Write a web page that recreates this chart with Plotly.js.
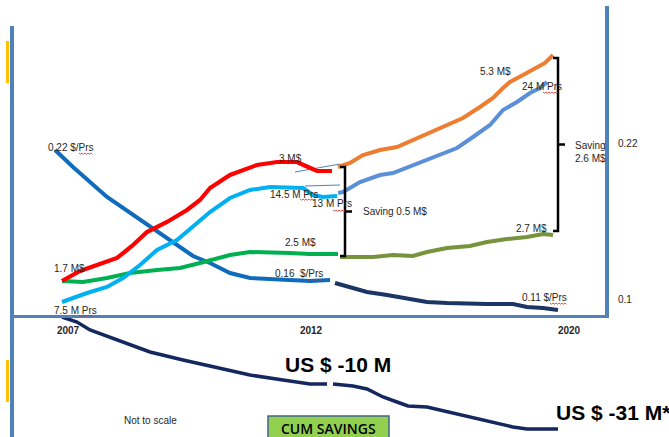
<!DOCTYPE html>
<html>
<head>
<meta charset="utf-8">
<script src="https://cdn.plot.ly/plotly-3.0.1.min.js"></script>
<style>html,body{margin:0;padding:0;background:#fff;}#chart{width:669px;height:437px;}</style>
</head>
<body>
<div id="chart"></div>
<script>
// Time index (not to scale): 0 = 2007, ~50 = 2012, ~100 = 2020
const yearTicks = [1.2, 49.8, 101.4];
const yearLabels = ['2007', '2012', '2020'];
const priceTicks = [0.1, 0.22];
const priceLabels = ['0.1', '0.22'];

// Unit price $/Prs, historic (blue) and forecast (navy) — relative scale
const tPriceHist = [-1.4, 2.2, 9, 15.6, 18.2, 22.2, 26.2, 29.6, 33.6, 37.6, 41.6, 45.6, 49.6, 53.6];
const priceHist  = [166, 149, 119, 96, 88, 73, 60, 53, 43, 38, 37, 37, 35, 36];
const tPriceFc   = [54.6, 57.6, 61, 65, 69, 73, 77, 81.6, 85, 90.2, 93, 96.2, 99.2];
const priceFc    = [33, 29, 24, 21, 18, 14, 13, 12, 12, 12, 9, 8, 6];

// Cost M$ historic (red), forecast without saving (orange)
const tCostHist = [0, 3.6, 7, 11, 14, 17, 21, 25, 27.6, 29.6, 33.6, 39, 43, 47, 49.2, 51, 54];
const costHist  = [35, 45, 51, 58, 70, 84, 94, 106, 116, 128, 141, 151, 154, 154, 149, 145, 145];
const tCostFc   = [55.2, 57.6, 60.2, 63.6, 67, 70.2, 73.6, 78.2, 80.2, 83.6, 86.2, 88.2, 89.6, 92.2, 95, 96.6, 98.2];
const costFc    = [149, 153, 161, 166, 169, 176, 184, 194, 198, 209, 218, 228, 234, 241, 248, 253, 261];

// Volume M Prs historic (cyan), forecast (light blue)
const tVolHist = [0, 5, 9, 12.2, 15.6, 19, 23, 27.6, 29.6, 33.6, 37.6, 41.6, 45.6, 48.2, 50.2, 52.2, 55];
const volHist  = [14, 23, 29, 38, 51, 66, 76, 96, 104, 118, 126, 129, 129, 128, 121, 119, 120];
const tVolFc   = [55.2, 56.2, 59.6, 63.6, 66.2, 70.2, 73.6, 77, 79, 82.2, 85.6, 88.2, 91, 93.6, 95.6, 97];
const volFc    = [123, 124, 134, 141, 143, 151, 158, 164, 168, 179, 191, 206, 214, 223, 228, 234];

// Cost with saving M$ historic (green), forecast (olive)
const tSaveHist = [0, 4.2, 9, 13.6, 19, 23.6, 27.6, 29.6, 33.6, 37.6, 41.6, 45.6, 49.6, 55.2];
const saveHist  = [35, 34, 38, 43, 46, 48, 53, 56, 61, 64, 64, 63, 62, 62];
const tSaveFc   = [55.6, 62.2, 66.2, 70.2, 73, 77, 81.6, 85, 89, 93, 96.2, 98.2];
const saveFc    = [59, 59, 61, 60, 64, 68, 70, 74, 77, 79, 82, 81];

// Cumulative savings (navy, below axis)
const tCumA = [0, 3, 5.6, 11, 17.6, 24.2, 31, 37.6, 44.2, 49.6, 53];
const cumA  = [-1, -6, -14, -24, -36, -44, -52, -59, -64, -68, -68];
const tCumB = [54.2, 58.2, 61, 64.2, 67, 69.2, 73, 75.6, 78.2, 82.2, 86.2, 90.2, 93, 99.2];
const cumB  = [-68, -70, -73, -81, -86, -90, -91, -94, -97, -101, -106, -111, -113, -113];

// Thin connector lines between historic end and forecast start
const tLinkCost = [46.6, 55.6];
const linkCost  = [144, 152];
const tLinkVol  = [48.6, 55.6];
const linkVol   = [130, 131];

const FONT = 'Liberation Sans, Arial, sans-serif';
const TXT = '#262626';

function line(x, y, color, width) {
  return {x: x, y: y, type: 'scatter', mode: 'lines',
    line: {color: color, width: width, shape: 'linear'},
    hoverinfo: 'skip', showlegend: false};
}

const traces = [
  line(tLinkCost, linkCost, '#4f81bd', 1),
  line(tLinkVol, linkVol, '#4f81bd', 1),
  line(tPriceHist, priceHist, '#0f6cbd', 4),
  line(tPriceFc, priceFc, '#1b3564', 4),
  line(tSaveHist, saveHist, '#00b050', 4),
  line(tSaveFc, saveFc, '#77933c', 4),
  line(tVolHist, volHist, '#00b0f0', 4),
  line(tVolFc, volFc, '#5b8fd8', 4),
  line(tCostHist, costHist, '#ff0000', 4.2),
  line(tCostFc, costFc, '#ed7d31', 4),
  line(tCumA, cumA, '#14275f', 3.5),
  line(tCumB, cumB, '#14275f', 3.5),
  {x: [null], y: [null], yaxis: 'y2', type: 'scatter', mode: 'lines', showlegend: false, hoverinfo: 'skip'}
];

// Brackets derived from series end points
const b1x = 56.6, b1top = costFc[0], b1bot = saveFc[0] + 1;
const b2x = 99.2, b2top = costFc[costFc.length - 1] - 3, b2bot = saveFc[saveFc.length - 1] + 4;
function bracket(x, top, bot, capL, tickR) {
  const mid = (top + bot) / 2;
  return [
    {type: 'path', xref: 'x', yref: 'y',
     path: `M ${capL} ${top} L ${x} ${top} L ${x} ${bot} L ${capL} ${bot}`,
     line: {color: '#000', width: 2.5}},
    {type: 'line', xref: 'x', yref: 'y', x0: x, x1: tickR, y0: mid, y1: mid,
     line: {color: '#000', width: 2.5}}
  ];
}

// red spell-check squiggle under a word (start t, end t, y)
function squiggle(t0, t1, y) {
  let p = `M ${t0} ${y}`;
  let k = 0;
  for (let t = t0 + 0.3; t <= t1 + 0.001; t += 0.3) {
    k++;
    p += ` L ${t.toFixed(2)} ${k % 2 ? y - 1.2 : y}`;
  }
  return {type: 'path', xref: 'x', yref: 'y', path: p, line: {color: '#e02020', width: 0.8}};
}

const shapes = [].concat(
  bracket(b1x, b1top, b1bot, 55.6, 58),
  bracket(b2x, b2top, b2bot, 98.2, 100.6),
  [
    {type: 'rect', xref: 'paper', yref: 'paper', x0: 6/669, x1: 9/669, y0: 1 - 83/437, y1: 1 - 41/437,
     fillcolor: '#ffc000', line: {width: 0}},
    {type: 'rect', xref: 'paper', yref: 'paper', x0: 6/669, x1: 9/669, y0: 1 - 402/437, y1: 1 - 360/437,
     fillcolor: '#ffc000', line: {width: 0}},
    {type: 'rect', xref: 'x', yref: 'y', x0: 41.2, x1: 65.4, y0: -100, y1: -135,
     fillcolor: '#92d050', line: {color: '#41638c', width: 1.5}},
    squiggle(3.4, 6.2, 163),
    squiggle(3.4, 6.2, 1),
    squiggle(47.6, 50.6, 117),
    squiggle(54.2, 56.6, 106),
    squiggle(49, 52.2, 37),
    squiggle(96.2, 99.2, 224),
    squiggle(97.6, 101, 13)
  ]
);

function lab(text, x, y, opts) {
  return Object.assign({text: text, x: x, y: y, xref: 'x', yref: 'y', showarrow: false,
    xanchor: 'left', yanchor: 'middle', font: {family: FONT, size: 10, color: TXT}}, opts || {});
}

const annotations = [
  lab('0.22 $/Prs', -3.2, 169),
  lab('1.7 M$', -2, 48),
  lab('7.5 M Prs', -2, 6),
  lab('3 M$', 43, 158),
  lab('14.5 M Prs', 41.2, 122),
  lab('13 M Prs', 49.6, 113),
  lab('2.5 M$', 44.2, 74),
  lab('0.16  $/Prs', 42.2, 43),
  lab('Saving 0.5 M$', 59.8, 105),
  lab('5.3 M$', 83.2, 245),
  lab('24 M Prs', 91.6, 230),
  lab('Saving<br>2.6 M$', 102.2, 164, {align: 'left'}),
  lab('2.7 M$', 90.4, 88),
  lab('0.11 $/Prs', 91.6, 19),
  lab('US $ -10 M', 44.2, -48, {font: {family: FONT, size: 21, color: '#000', weight: 'bold'}}),
  lab('US $ -31 M*', 98.4, -96, {font: {family: FONT, size: 21, color: '#000', weight: 'bold'}}),
  lab('Not to scale', 12, -104, {font: {family: FONT, size: 10, color: TXT}}),
  lab('CUM SAVINGS', 53.3, -112.5, {xanchor: 'center', font: {family: 'Open Sans, sans-serif', size: 14, color: '#000', weight: 600}})
];

const AX = '#4f81bd';
const layout = {
  width: 669, height: 437,
  margin: {l: 0, r: 0, t: 0, b: 0},
  paper_bgcolor: '#fff', plot_bgcolor: 'rgba(0,0,0,0)',
  showlegend: false,
  xaxis: {domain: [12/669, 607/669], range: [-10, 109], anchor: 'free', position: 121/437,
    showline: true, linecolor: AX, linewidth: 3, showgrid: false, zeroline: false,
    tickmode: 'array', tickvals: yearTicks, ticktext: yearLabels,
    ticks: 'outside', ticklen: 4, tickcolor: 'rgba(0,0,0,0)',
    tickfont: {family: FONT, size: 10, color: TXT, weight: 'bold'}, fixedrange: true},
  yaxis: {domain: [0, 411/437], range: [-121, 290], anchor: 'free', position: 11/669,
    showline: true, linecolor: AX, linewidth: 3.5, showgrid: false, zeroline: false,
    showticklabels: false, ticks: '', fixedrange: true},
  yaxis2: {domain: [119/437, 431/437], range: [0.0854, 0.3254], anchor: 'free', position: 607/669,
    side: 'right', showline: true, linecolor: AX, linewidth: 4, showgrid: false, zeroline: false,
    tickmode: 'array', tickvals: priceTicks, ticktext: priceLabels,
    ticks: 'outside', ticklen: 7, tickcolor: 'rgba(0,0,0,0)',
    tickfont: {family: FONT, size: 10, color: TXT}, fixedrange: true},
  shapes: shapes,
  annotations: annotations
};

Plotly.newPlot('chart', traces, layout, {staticPlot: true, displayModeBar: false});
</script>
</body>
</html>
